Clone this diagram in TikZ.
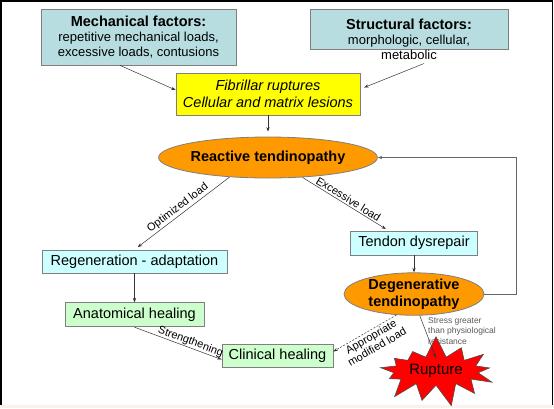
\documentclass[tikz,border=0pt]{standalone}
\usepackage{fontspec}
\setmainfont{Liberation Sans}
\usetikzlibrary{arrows.meta,positioning,calc,shapes.geometric,shapes.symbols}
\definecolor{FactorGray}{HTML}{B7DDE0}
\definecolor{LesionYellow}{HTML}{FFFF00}
\definecolor{TendOrange}{HTML}{FF9900}
\definecolor{RepairCyan}{HTML}{CCFFFF}
\definecolor{HealGreen}{HTML}{CCFFCC}
\definecolor{RuptureRed}{HTML}{FF0000}
\definecolor{EdgeGray}{HTML}{7F7F7F}
\definecolor{PageRose}{HTML}{FBF1EB}

\begin{document}
\begin{tikzpicture}[
x=1pt,y=-1pt,
box/.style={draw=EdgeGray,line width=0.8pt,align=center,inner sep=0pt,font=\fontsize{14.5}{17}\selectfont},
oval/.style={ellipse,draw=EdgeGray,line width=0.8pt,fill=TendOrange,align=center,inner sep=0pt,font=\fontsize{14.5}{16.5}\selectfont\bfseries},
arr/.style={-{Stealth[length=4.5pt,width=3.2pt]},line width=0.5pt,draw=black!80},
lbl/.style={sloped,font=\fontsize{11}{12}\selectfont,inner sep=1.5pt}
]
\useasboundingbox (0,0) rectangle (554,408);
\fill[PageRose] (0,405) rectangle (554,408);
\draw[line width=1.5pt] (1,405) -- (1,1) -- (552.5,1) -- (552.5,405);
\node[box,fill=FactorGray,minimum width=195pt,minimum height=56pt,font=\fontsize{13}{15}\selectfont] (mech) at (138.5,37) {{\fontsize{14.5}{15}\selectfont\bfseries Mechanical factors:}\\repetitive mechanical loads,\\excessive loads, contusions};
\node[box,fill=FactorGray,minimum width=198pt,minimum height=40pt] (struct) at (409,29) {};
\node[align=center,inner sep=0pt,font=\fontsize{13}{15}\selectfont] (structtxt) at (409,39) {{\fontsize{14.5}{15}\selectfont\bfseries Structural factors:}\\morphologic, cellular,\\metabolic};
\node[box,fill=LesionYellow,minimum width=184pt,minimum height=42pt,font=\fontsize{14.5}{17}\selectfont\itshape] (fib) at (268,94) {Fibrillar ruptures\\Cellular and matrix lesions};
\node[oval,minimum width=184pt,minimum height=41pt] (react) at (268,157.5) {Reactive tendinopathy};
\node[box,fill=RepairCyan,minimum width=185pt,minimum height=23pt] (regen) at (134.5,261.5) {Regeneration - adaptation};
\node[box,fill=HealGreen,minimum width=139pt,minimum height=24pt,below=29pt of regen] (anat) {Anatomical healing};
\node[box,fill=HealGreen,minimum width=111pt,minimum height=23pt] (clin) at (277.5,355.5) {Clinical healing};
\node[box,fill=RepairCyan,minimum width=127pt,minimum height=24pt] (tendon) at (414,243) {Tendon dysrepair};
\node[oval,minimum width=140pt,minimum height=41pt,below=17pt of tendon] (degen) {Degenerative\\tendinopathy};
\node[anchor=north west,align=left,inner sep=0pt,text=black!65,font=\fontsize{8.5}{10.5}\selectfont] (stress) at (428,317) {Stress greater\\than physiological\\resistance};
\node[starburst,fill=RuptureRed,draw=black!70,line width=0.6pt,minimum width=104pt,minimum height=68pt,starburst points=13,starburst point height=22pt,random starburst=7,font=\fontsize{15}{17}\selectfont] (rupt) at (436,371) {Rupture};
\draw[arr] ([xshift=-18.5pt]mech.south) -- ([yshift=4pt]fib.west);
\draw[arr,shorten >=4pt] ([xshift=15pt,yshift=-4pt]structtxt.south) -- ([yshift=5pt]fib.east);
\draw[arr,shorten >=5pt] (fib) -- (react);
\draw[arr,shorten >=4pt] (react.207) -- node[lbl,above] {Optimized load} (regen.north);
\draw[arr,shorten >=3pt] (react.330) -- node[lbl,above] {Excessive load} ($(tendon.north west)!0.3!(tendon.north east)$);
\draw[arr] (tendon) -- (degen);
\draw[arr,draw=black!60] (degen.east) -- ++(32,0) |- (react.east);
\draw[arr] (regen) -- (anat);
\draw[arr] (anat.south) -- node[lbl,above,inner sep=0.5pt,pos=0.62] {Strengthening} ([yshift=-4pt]clin.west);
\draw[arr,dash pattern=on 2pt off 1.5pt] (degen.230) -- node[lbl,below,align=center,pos=0.45] {Appropriate\\modified load} ([yshift=4pt]clin.east);
\draw[arr] (degen.285) -- ([yshift=13pt]rupt.center);
\end{tikzpicture}
\end{document}
